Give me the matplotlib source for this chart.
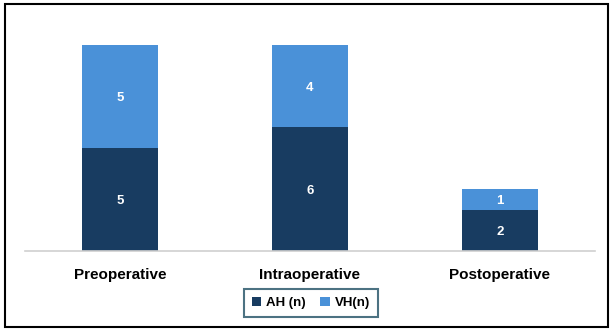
import numpy as np
import matplotlib.pyplot as plt
from matplotlib.patches import Rectangle

plt.rcParams['font.family'] = ['Liberation Sans', 'DejaVu Sans']

categories = ['Preoperative', 'Intraoperative', 'Postoperative']
ah = [5, 6, 2]
vh = [5, 4, 1]

dark = '#183c61'
light = '#4a91d8'

fig = plt.figure(figsize=(6.12, 3.31), dpi=100)
ax = fig.add_axes([25 / 612, 1 - 251 / 331, 570 / 612, 206 / 331])

x = np.arange(len(categories))
b1 = ax.bar(x, ah, width=0.4, color=dark, label='AH (n)')
b2 = ax.bar(x, vh, width=0.4, bottom=ah, color=light, label='VH(n)')

for bars, vals, base in [(b1, ah, [0] * 3), (b2, vh, ah)]:
    for r, v, b in zip(bars, vals, base):
        ax.text(r.get_x() + r.get_width() / 2, b + v / 2, str(v),
                ha='center', va='center_baseline', color='white',
                fontsize=9.5, fontweight='bold')

ax.set_xlim(-0.5, 2.5)
ax.set_ylim(0, 10)
ax.set_yticks([])
ax.set_xticks(x)
ax.set_xticklabels(categories, fontsize=11, fontweight='bold')
ax.tick_params(axis='x', length=0, pad=12)
for s in ['top', 'right', 'left']:
    ax.spines[s].set_visible(False)
ax.spines['bottom'].set_color('#d0d0d0')
ax.spines['bottom'].set_linewidth(1.2)

leg = fig.legend(handles=[b1, b2], loc='center', bbox_to_anchor=(311 / 612, 1 - 303 / 331),
                 ncol=2, frameon=True, fancybox=False, handlelength=0.7, handleheight=0.7,
                 handletextpad=0.4, columnspacing=1.1, borderpad=0.6,
                 prop={'weight': 'bold', 'size': 9.5})
leg.get_frame().set_edgecolor('#1f4f63')
leg.get_frame().set_linewidth(1.5)

# outer frame
fig.patches.append(Rectangle((5 / 612, 4 / 331), 603 / 612, 323 / 331, transform=fig.transFigure,
                             fill=False, edgecolor='black', linewidth=1.5))

fig.savefig('out.png', dpi=100)
